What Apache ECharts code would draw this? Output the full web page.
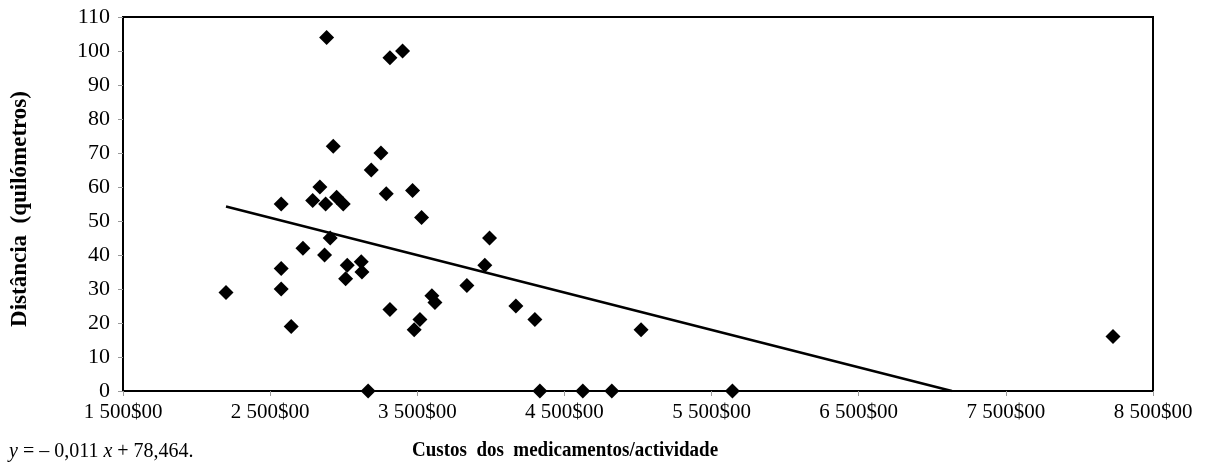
<!DOCTYPE html>
<html>
<head>
<meta charset="utf-8">
<script src="https://cdn.jsdelivr.net/npm/echarts@6/dist/echarts.min.js"></script>
<style>
  html, body { margin: 0; padding: 0; background: #fff; }
  #chart { width: 1211px; height: 467px; }
</style>
</head>
<body>
<div id="chart"></div>
<script>
// custo dos medicamentos por actividade (escudos)
const costs = [
  2200, 2575, 2575, 2643, 2723, 2575, 2789, 2838, 2877, 2884,
  2870, 2908, 2929, 2952, 2997, 3013, 3024, 3119, 3124, 3187,
  3253, 3289, 3314, 3400, 3314, 3166, 3468, 3479, 3518, 3529,
  3599, 3620, 3837, 3959, 3991, 4170, 4299, 4333, 4625, 4822,
  5021, 5642, 8228
];
// distância (km)
const distances = [
  29, 36, 30, 19, 42, 55, 56, 60, 55, 104,
  40, 45, 72, 57, 55, 33, 37, 38, 35, 65,
  70, 58, 98, 100, 24, 0, 59, 18, 21, 51,
  28, 26, 31, 37, 45, 25, 21, 0, 0, 0,
  18, 0, 16
];
// recta de regressão
const slope = -0.011;
const intercept = 78.464;

const xMin = 1500, xMax = 8500, xStep = 1000;
const yMin = 0, yMax = 110, yStep = 10;

const FONT = '"Liberation Serif", "Times New Roman", serif';

const points = costs.map((c, i) => [c, distances[i]]);
const trendStart = Math.min(...costs);
const trendEnd = Math.min(Math.max(...costs), -intercept / slope);
const trend = [trendStart, trendEnd].map(x => [x, slope * x + intercept]);

function fmtMoney(v) {
  const s = String(Math.round(v));
  return s.replace(/\B(?=(\d{3})+(?!\d))/g, ' ') + '$00';
}

const chart = echarts.init(document.getElementById('chart'));

chart.setOption({
  animation: false,
  grid: {
    left: 123, right: 58, top: 17, bottom: 76,
    show: true,
    borderColor: '#000',
    borderWidth: 2
  },
  xAxis: {
    type: 'value',
    min: xMin, max: xMax, interval: xStep,
    axisLine: { show: true, onZero: false, lineStyle: { color: '#000', width: 2 } },
    axisTick: { show: true, length: 5, lineStyle: { color: '#999' } },
    splitLine: { show: false },
    axisLabel: {
      color: '#000', fontFamily: FONT, fontSize: 21, margin: 11,
      formatter: fmtMoney
    }
  },
  yAxis: {
    type: 'value',
    min: yMin, max: yMax, interval: yStep,
    axisLine: { show: true, onZero: false, lineStyle: { color: '#000', width: 2 } },
    axisTick: { show: true, length: 5, lineStyle: { color: '#999' } },
    splitLine: { show: false },
    axisLabel: { color: '#000', fontFamily: FONT, fontSize: 22, margin: 13 }
  },
  series: [
    {
      type: 'line',
      data: trend,
      symbol: 'none',
      lineStyle: { color: '#000', width: 2.5 },
      z: 2
    },
    {
      type: 'scatter',
      data: points,
      symbol: 'diamond',
      symbolSize: 15,
      itemStyle: { color: '#000', opacity: 1 },
      z: 3
    }
  ],
  graphic: [
    {
      type: 'text',
      x: 412, y: 461,
      scaleY: 1.1,
      style: {
        text: 'Custos  dos  medicamentos/actividade',
        font: 'bold 19px ' + FONT,
        fill: '#000',
        verticalAlign: 'bottom'
      }
    },
    {
      type: 'text',
      x: 20, y: 209,
      rotation: Math.PI / 2,
      style: {
        text: 'Distância  (quilómetros)',
        font: 'bold 23px ' + FONT,
        fill: '#000',
        align: 'center',
        verticalAlign: 'middle'
      }
    },
    {
      type: 'text',
      x: 9, y: 462,
      scaleY: 1.1,
      style: {
        text: '{i|y} = – 0,011 {i|x} + 78,464.',
        font: '20px ' + FONT,
        fill: '#000',
        verticalAlign: 'bottom',
        rich: {
          i: { fontStyle: 'italic', fontFamily: FONT, fontSize: 20, fill: '#000' }
        }
      }
    }
  ]
});
</script>
</body>
</html>
